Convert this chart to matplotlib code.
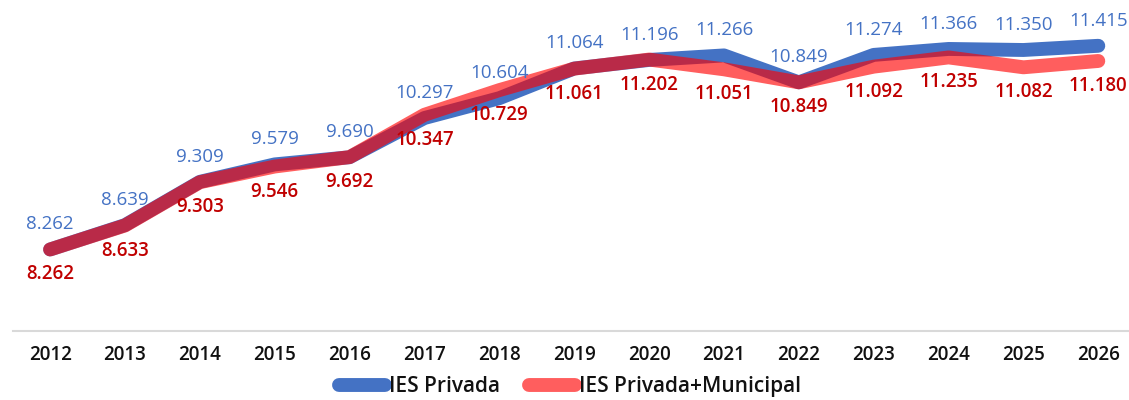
import matplotlib
matplotlib.use("Agg")
import matplotlib.pyplot as plt

plt.rcParams.update({
    "font.family": ["Open Sans", "DejaVu Sans"],
    "font.size": 13,
})

YEARS = ["2012", "2013", "2014", "2015", "2016", "2017", "2018", "2019",
         "2020", "2021", "2022", "2023", "2024", "2025", "2026"]
PRIVADA = [8262, 8639, 9309, 9579, 9690, 10297, 10604, 11064,
           11196, 11266, 10849, 11274, 11366, 11350, 11415]
PRIV_MUNI = [8262, 8633, 9303, 9546, 9692, 10347, 10729, 11061,
             11202, 11051, 10849, 11092, 11235, 11082, 11180]

BLUE = "#4472C4"
RED = "#FF0000"
RED_TXT = "#C00000"


def fmt(v):
    return f"{v / 1000:.3f}"


fig = plt.figure(figsize=(11.29, 4.0), dpi=100)
ax = fig.add_axes([0.0112, 0.1725, 0.9888, 0.8075])

x = list(range(len(YEARS)))
ax.plot(x, PRIVADA, color=BLUE, lw=10, solid_capstyle="round",
        solid_joinstyle="round", label="IES Privada", zorder=2)
ax.plot(x, PRIV_MUNI, color=RED, alpha=0.63, lw=10, solid_capstyle="round",
        solid_joinstyle="round", label="IES Privada+Municipal", zorder=3)

for i, (a, b) in enumerate(zip(PRIVADA, PRIV_MUNI)):
    ax.annotate(fmt(a), (i, a), xytext=(0, 18), textcoords="offset points",
                ha="center", va="center", color=BLUE, fontsize=13.5)
    ax.annotate(fmt(b), (i, b), xytext=(0, -18), textcoords="offset points",
                ha="center", va="center", color=RED_TXT, fontsize=13.5,
                fontweight="semibold")

ax.set_xlim(-0.5, 14.41)
ax.set_ylim(7000, 12000)
ax.set_xticks(x)
ax.set_xticklabels(YEARS, fontsize=13.5, fontweight="semibold", color="#111111")
ax.set_yticks([])
for s in ["top", "right", "left"]:
    ax.spines[s].set_visible(False)
ax.spines["bottom"].set_color("#D9D9D9")
ax.spines["bottom"].set_linewidth(1.5)
ax.tick_params(axis="x", length=0, pad=10)

leg = fig.legend(loc="lower center", bbox_to_anchor=(0.505, -0.04), ncol=2,
                 frameon=False, handlelength=2.2, columnspacing=1.4,
                 handletextpad=0.2, prop={"size": 15, "weight": "semibold"})
for t in leg.get_texts():
    t.set_color("#111111")

fig.savefig("out.png", dpi=100)
